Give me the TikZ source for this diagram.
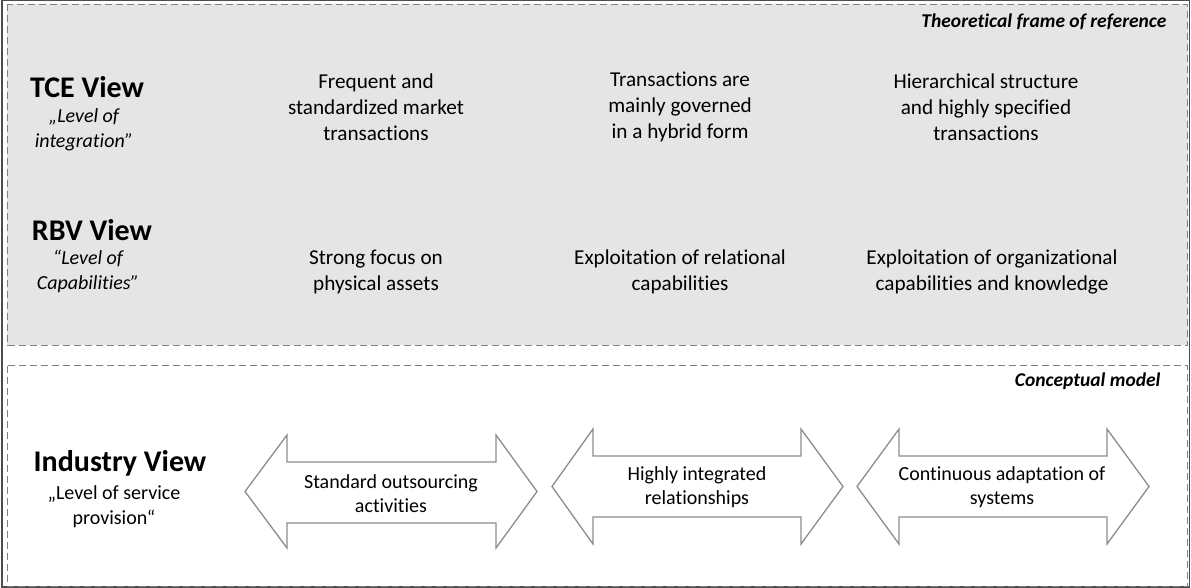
\documentclass[tikz,border=0pt]{standalone}
\usepackage{fontspec}
\setmainfont{Carlito}[Ligatures=NoCommon]
\begin{document}
\begin{tikzpicture}[x=1pt,y=-1pt,
  dbox/.style={draw=black!50, dashed, dash pattern=on 7pt off 4pt, line width=1pt},
  title/.style={font=\fontsize{30}{32}\selectfont\bfseries, anchor=center},
  sub/.style={font=\fontsize{20}{25}\selectfont\itshape, align=center},
  subup/.style={font=\fontsize{20}{25}\selectfont, align=center},
  cell/.style={font=\fontsize{21.2}{26}\selectfont, align=center},
  corner/.style={font=\fontsize{19.5}{22}\selectfont\bfseries\itshape, anchor=east},
  arr/.style={draw=black!45, line width=1.3pt, fill=white, line join=miter},
  atext/.style={font=\fontsize{20}{24}\selectfont, align=center}
]
\useasboundingbox (0,0) rectangle (1191,588);
% outer frame
\draw[black!70, line width=1.5pt] (2,0.75) rectangle (1189.5,587);
% boxes
\draw[dbox, fill=black!10] (7,4.5) rectangle (1187.5,345);
\draw[dbox, fill=white] (7,365.5) rectangle (1187.5,586);

\node[corner] (tf) at (1170,22) {Theoretical frame of reference};
\node[corner] (cm) at (1164,381) {Conceptual model};

% TCE row
\node[title] (tce) at (87,87) {TCE View};
\node[sub] (tces) at (84,130) {„Level of\\integration”};
\node[cell] (c11) at (376,107) {Frequent and\\standardized market\\transactions};
\node[cell] (c12) at (680,107) {Transactions are\\mainly governed\\in a hybrid form};
\node[cell] (c13) at (986,107) {Hierarchical structure\\and highly specified\\transactions};

% RBV row
\node[title] (rbv) at (92,230) {RBV View};
\node[sub] (rbvs) at (88,271) {“Level of\\Capabilities”};
\node[cell] (c21) at (376,272) {Strong focus on\\physical assets};
\node[cell] (c22) at (680,272) {Exploitation of relational\\capabilities};
\node[cell] (c23) at (992,272) {Exploitation of organizational\\capabilities and knowledge};

% Industry row
\node[title] (ind) at (120,463) {Industry View};
\node[subup] (inds) at (114,507) {„Level of service\\provision“};

% arrows
\draw[arr] (245,491.5) -- (287,435) -- (287,462) -- (496,462) -- (496,435) -- (537,491.5)
  -- (496,548) -- (496,523) -- (287,523) -- (287,548) -- cycle;
\draw[arr] (552,486.5) -- (593,429) -- (593,456) -- (801,456) -- (801,429) -- (843,486.5)
  -- (801,544) -- (801,517) -- (593,517) -- (593,544) -- cycle;
\draw[arr] (857,486.5) -- (899,429) -- (899,456) -- (1107,456) -- (1107,429) -- (1149,486.5)
  -- (1107,544) -- (1107,517) -- (899,517) -- (899,544) -- cycle;
\node[atext] (a1) at (391,494) {Standard outsourcing\\activities};
\node[atext] (a2) at (697,487) {Highly integrated\\relationships};
\node[atext] (a3) at (1002,487) {Continuous adaptation of\\systems};
\end{tikzpicture}
\end{document}
